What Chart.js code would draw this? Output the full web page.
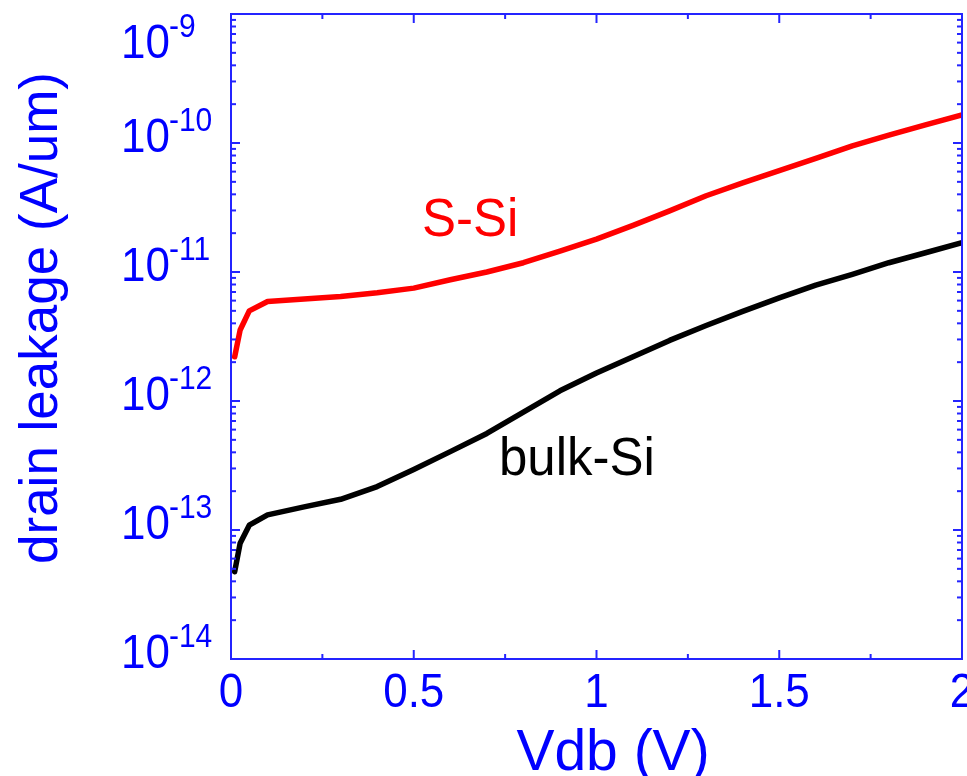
<!DOCTYPE html>
<html>
<head>
<meta charset="utf-8">
<script src="https://cdn.jsdelivr.net/npm/chart.js@4/dist/chart.umd.min.js"></script>
<style>
  html, body { margin: 0; padding: 0; background: #fff; }
  canvas { display: block; }
</style>
</head>
<body>
<canvas id="leakChart" width="967" height="776"></canvas>
<script>
// Drain bias (V)
const vdb = [0.01, 0.025, 0.05, 0.1, 0.2, 0.3, 0.4, 0.5, 0.6, 0.7, 0.8, 0.9, 1.0,
             1.1, 1.2, 1.3, 1.4, 1.5, 1.6, 1.7, 1.8, 1.9, 2.0];
// Drain leakage (A/um)
const leakSSi = [2.2e-12, 3.55e-12, 5.0e-12, 5.9e-12, 6.18e-12, 6.45e-12, 6.9e-12, 7.5e-12, 8.7e-12,
                 1.0e-11, 1.18e-11, 1.45e-11, 1.8e-11, 2.3e-11, 2.98e-11, 3.9e-11, 4.9e-11,
                 6.1e-11, 7.6e-11, 9.5e-11, 1.15e-10, 1.38e-10, 1.65e-10];
const leakBulk = [4.75e-14, 7.9e-14, 1.09e-13, 1.31e-13, 1.51e-13, 1.73e-13, 2.17e-13, 2.95e-13,
                  4.05e-13, 5.6e-13, 8.2e-13, 1.2e-12, 1.65e-12, 2.2e-12, 2.95e-12, 3.85e-12,
                  4.95e-12, 6.3e-12, 7.92e-12, 9.6e-12, 1.18e-11, 1.41e-11, 1.69e-11];

const xTickValues = [0, 0.5, 1, 1.5, 2];
const xTickLabels = ['0', '0.5', '1', '1.5', '2'];
const yExponents = [-9, -10, -11, -12, -13, -14];

const BLUE = '#0000ff';
const FRAME = '#2424ff';
const FONT = '"Liberation Sans", Arial, Helvetica, sans-serif';

// text stretched a little vertically, anchored at its baseline
const tallText = (ctx, str, x, y, sy) => {
  ctx.save();
  ctx.translate(x, y);
  ctx.scale(1, sy);
  ctx.fillText(str, 0, 0);
  ctx.restore();
};

// frame, ticks on all four sides, tick labels, titles and curve labels
const framePlugin = {
  id: 'frame',
  afterDraw(chart) {
    const { ctx, chartArea: a, scales: { x, y } } = chart;
    ctx.save();
    ctx.strokeStyle = FRAME;
    ctx.lineWidth = 2;
    ctx.strokeRect(a.left, a.top, a.right - a.left, a.bottom - a.top);

    const tick = (x1, y1, x2, y2) => {
      ctx.beginPath(); ctx.moveTo(x1, y1); ctx.lineTo(x2, y2); ctx.stroke();
    };

    // x ticks, major every 0.5, minor every 0.25
    for (let v = 0; v <= 2.0001; v += 0.25) {
      const px = x.getPixelForValue(v);
      const len = Math.abs(v / 0.5 - Math.round(v / 0.5)) < 1e-6 ? 9 : 5;
      tick(px, a.bottom, px, a.bottom - len);
      tick(px, a.top, px, a.top + len);
    }

    // y ticks, decades plus 2..9 minors
    for (let e = -14; e <= -9; e++) {
      const py = y.getPixelForValue(Math.pow(10, e));
      tick(a.left, py, a.left + 9, py);
      tick(a.right, py, a.right - 9, py);
      if (e === -9) continue;
      for (let m = 2; m <= 9; m++) {
        const pm = y.getPixelForValue(m * Math.pow(10, e));
        tick(a.left, pm, a.left + 5, pm);
        tick(a.right, pm, a.right - 5, pm);
      }
    }

    ctx.fillStyle = BLUE;
    ctx.textBaseline = 'alphabetic';

    // x tick labels
    ctx.font = '44px ' + FONT;
    ctx.textAlign = 'center';
    xTickValues.forEach((v, i) => {
      tallText(ctx, xTickLabels[i], x.getPixelForValue(v), 707, 1.08);
    });

    // y tick labels as 10 with superscript exponent
    ctx.textAlign = 'left';
    yExponents.forEach(e => {
      const py = y.getPixelForValue(Math.pow(10, e));
      const base = e === -9 ? py + 44 : py + 9;
      const lx = 121;
      ctx.font = '44px ' + FONT;
      tallText(ctx, '10', lx, base, 1.08);
      const w = ctx.measureText('10').width;
      ctx.font = '30px ' + FONT;
      tallText(ctx, String(e), lx + w - 1, base - 21, 1.08);
    });

    // axis titles
    ctx.font = '57px ' + FONT;
    ctx.textAlign = 'center';
    ctx.fillText('Vdb (V)', 613, 770);
    ctx.save();
    ctx.translate(57, 318);
    ctx.rotate(-Math.PI / 2);
    ctx.font = '53px ' + FONT;
    ctx.fillText('drain leakage (A/um)', 0, 0);
    ctx.restore();

    // curve labels
    ctx.textAlign = 'left';
    ctx.font = '51px ' + FONT;
    ctx.fillStyle = '#ff0000';
    tallText(ctx, 'S-Si', 422, 236, 1.04);
    ctx.fillStyle = '#000000';
    tallText(ctx, 'bulk-Si', 499, 475, 1.04);
    ctx.restore();
  }
};

new Chart(document.getElementById('leakChart'), {
  type: 'line',
  data: {
    datasets: [
      {
        label: 'bulk-Si',
        data: vdb.map((v, i) => ({ x: v, y: leakBulk[i] })),
        borderColor: '#000000',
        borderWidth: 5.5,
        pointRadius: 0,
        tension: 0,
        borderCapStyle: 'round',
        borderJoinStyle: 'round'
      },
      {
        label: 'S-Si',
        data: vdb.map((v, i) => ({ x: v, y: leakSSi[i] })),
        borderColor: '#ff0000',
        borderWidth: 5.5,
        pointRadius: 0,
        tension: 0,
        borderCapStyle: 'round',
        borderJoinStyle: 'round'
      }
    ]
  },
  options: {
    responsive: false,
    devicePixelRatio: 1,
    animation: false,
    layout: { padding: { left: 0, top: 14, right: 5, bottom: 0 } },
    plugins: {
      legend: { display: false },
      tooltip: { enabled: false }
    },
    scales: {
      x: {
        type: 'linear',
        min: 0,
        max: 2,
        grid: { display: false },
        border: { display: false },
        ticks: { display: false },
        afterFit: s => { s.height = 117; }
      },
      y: {
        type: 'logarithmic',
        min: 1e-14,
        max: 1e-9,
        grid: { display: false },
        border: { display: false },
        ticks: { display: false },
        afterFit: s => { s.width = 231; }
      }
    }
  },
  plugins: [framePlugin]
});
</script>
</body>
</html>
